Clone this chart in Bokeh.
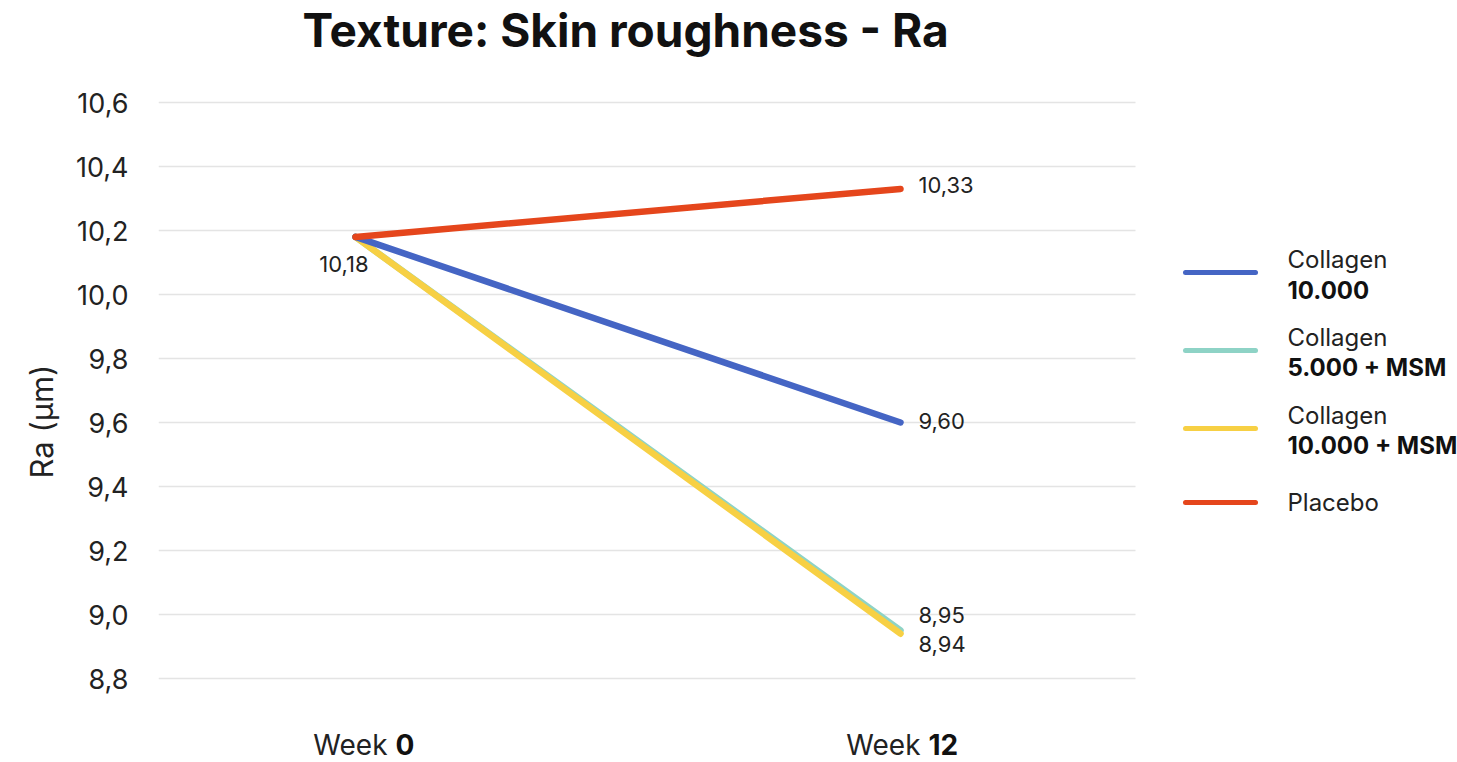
from bokeh.plotting import figure
from bokeh.models import (Range1d, FixedTicker, CustomJSTickFormatter, ColumnDataSource,
                          Title)
from bokeh.embed import file_html
from bokeh.resources import INLINE
from bokeh.core.properties import value

# ---- data -------------------------------------------------------------
week_positions = [0, 1]
week_numbers = ["0", "12"]

series_top = ["Collagen", "Collagen", "Collagen", "Placebo"]
series_bold = ["10.000", "5.000 + MSM", "10.000 + MSM", ""]

collagen_10000 = [10.18, 9.60]
collagen_5000_msm = [10.18, 8.95]
collagen_10000_msm = [10.18, 8.94]
placebo = [10.18, 10.33]

series_colors = ["#4565C4", "#8ED3C6", "#F7D044", "#E5461C"]
y_ticks = [8.8, 9.0, 9.2, 9.4, 9.6, 9.8, 10.0, 10.2, 10.4, 10.6]
title_text = "Texture: Skin roughness - Ra"
y_title = "Ra (µm)"

FONT = "Inter"
series_values = [collagen_10000, collagen_5000_msm, collagen_10000_msm, placebo]

# ---- page geometry (pixels) ------------------------------------------
W, H = 1457, 762
FRAME_LEFT = 158          # plotting area starts right of the y axis
WEEK0_PX = 355            # horizontal pixel of the first week
X_PX_PER_UNIT = 545.0     # pixels between the two weeks
GRID_RIGHT_PX = 1135      # grid lines stop before the legend
Y_TOP_PX = 102            # pixel row of the top tick
Y_PX_PER_UNIT = 320.0

x_start = -(WEEK0_PX - FRAME_LEFT) / X_PX_PER_UNIT
x_end = x_start + (W - FRAME_LEFT) / X_PX_PER_UNIT
y_top = y_ticks[-1]
y_end = y_top + Y_TOP_PX / Y_PX_PER_UNIT
y_start = y_top - (H - Y_TOP_PX) / Y_PX_PER_UNIT


def xd(px):
    return x_start + (px - FRAME_LEFT) / X_PX_PER_UNIT


def yd(py):
    return y_top - (py - Y_TOP_PX) / Y_PX_PER_UNIT


def fmt(v):
    return f"{v:.2f}".replace(".", ",")


p = figure(width=W, height=H, output_backend="svg", toolbar_location=None,
           title=None, x_axis_type=None,
           x_range=Range1d(x_start, x_end), y_range=Range1d(y_start, y_end),
           min_border_left=FRAME_LEFT, min_border_right=0, min_border_top=0,
           min_border_bottom=0)
p.outline_line_color = None
p.background_fill_color = "white"
p.border_fill_color = "white"
p.xgrid.visible = False
p.ygrid.visible = False

yax = p.yaxis[0]
yax.ticker = FixedTicker(ticks=y_ticks)
yax.formatter = CustomJSTickFormatter(code="return tick.toFixed(1).replace('.', ',');")
yax.axis_line_color = None
yax.major_tick_line_color = None
yax.minor_tick_line_color = None
yax.major_label_text_font = FONT
yax.major_label_text_font_size = "27px"
yax.major_label_text_color = "#222222"
yax.major_label_standoff = 24

# rotated y title, placed alongside the tick labels
p.add_layout(Title(text=y_title, align="left", offset=284, standoff=26,
                   text_font=FONT, text_font_size="31px", text_font_style="normal",
                   text_color="#222222"), "left")

# horizontal grid lines, stopping short of the legend
n = len(y_ticks)
p.segment(x0=[x_start] * n, x1=[xd(GRID_RIGHT_PX)] * n, y0=y_ticks, y1=y_ticks,
          line_color="#e4e4e4", line_width=1.5)

# chart title
p.text(x=[xd(302)], y=[yd(29)], text=[title_text], text_baseline="alphabetic",
       text_font=value(FONT), text_font_size="46px", text_font_style="bold",
       text_color="#111111")

# series lines: teal and yellow underneath, placebo on top
for i in [1, 2, 0, 3]:
    p.line(week_positions, series_values[i], line_color=series_colors[i],
           line_width=6.5, line_cap="round")

# value labels
lab_x, lab_y, lab_t, lab_dx, lab_dy, lab_align = [], [], [], [], [], []
lab_x.append(week_positions[0]); lab_y.append(placebo[0]); lab_t.append(fmt(placebo[0]))
lab_dx.append(13); lab_dy.append(27); lab_align.append("right")
end_offsets = {0: -2, 1: -16, 2: 10, 3: -4}
for i in range(4):
    v = series_values[i][1]
    lab_x.append(week_positions[1]); lab_y.append(v); lab_t.append(fmt(v))
    lab_dx.append(18); lab_dy.append(end_offsets[i]); lab_align.append("left")
src = ColumnDataSource(dict(x=lab_x, y=lab_y, text=lab_t, dx=lab_dx, dy=lab_dy,
                            align=lab_align))
p.text(x="x", y="y", text="text", x_offset="dx", y_offset="dy", source=src,
       text_align="align", text_baseline="middle", text_font=value(FONT),
       text_font_size="22px", text_color="#222222")

# week labels: "Week" plus a bold number
p.text(x=week_positions, y=[y_ticks[0]] * 2, text=["Week"] * 2,
       x_offset=[32, 20], y_offset=[66, 66], text_align="right",
       text_baseline="middle", text_font=value(FONT), text_font_size="28px",
       text_color="#222222")
p.text(x=week_positions, y=[y_ticks[0]] * 2, text=week_numbers,
       x_offset=[40, 28], y_offset=[66, 66], text_align="left",
       text_baseline="middle", text_font=value(FONT), text_font_size="28px",
       text_font_style="bold", text_color="#111111")

# legend
entry_py = [272, 350, 428, 502]
p.segment(x0=[xd(1185)] * 4, x1=[xd(1255)] * 4,
          y0=[yd(v) for v in entry_py], y1=[yd(v) for v in entry_py],
          line_color=series_colors, line_width=5, line_cap="round")
top_py = [v - 13 if b else v for v, b in zip(entry_py, series_bold)]
bold_py = [v + 17 for v in entry_py]
p.text(x=[xd(1287)] * 4, y=[yd(v) for v in top_py], text=series_top,
       text_baseline="middle", text_font=value(FONT), text_font_size="24px",
       text_color="#222222")
p.text(x=[xd(1287)] * 4, y=[yd(v) for v in bold_py], text=series_bold,
       text_baseline="middle", text_font=value(FONT), text_font_size="24px",
       text_font_style="bold", text_color="#111111")

open("out.html", "w").write(file_html(p, INLINE))
